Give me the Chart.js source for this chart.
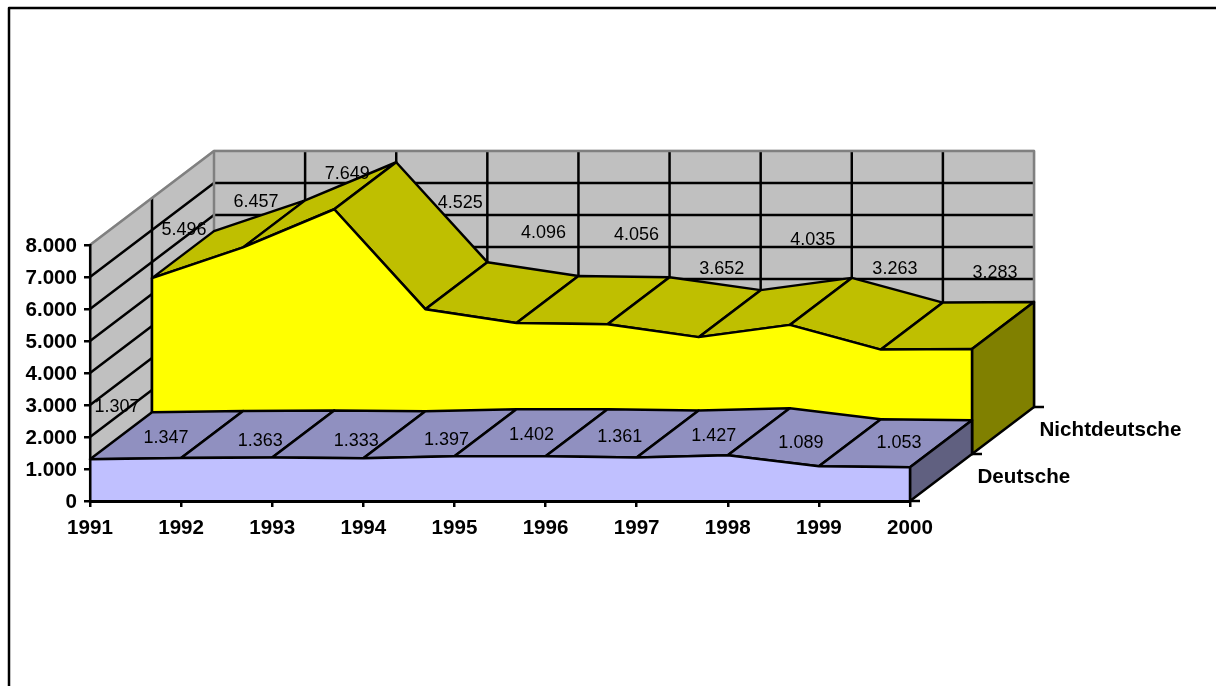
<!DOCTYPE html>
<html>
<head>
<meta charset="utf-8">
<title>Deutsche und Nichtdeutsche</title>
<script src="https://cdn.jsdelivr.net/npm/chart.js@4"></script>
<style>
  html, body { margin: 0; padding: 0; background: #fff; overflow: hidden; }
  canvas { display: block; }
</style>
</head>
<body>
<canvas id="chart" width="1216" height="686"></canvas>
<script>
const years = ['1991', '1992', '1993', '1994', '1995', '1996', '1997', '1998', '1999', '2000'];
const deutsche = [1307, 1347, 1363, 1333, 1397, 1402, 1361, 1427, 1089, 1053];
const nichtdeutsche = [5496, 6457, 7649, 4525, 4096, 4056, 3652, 4035, 3263, 3283];
const seriesNames = ['Deutsche', 'Nichtdeutsche'];

// one series step into the picture
const DEPTH_X = 62;
const DEPTH_Y = -47;

// where Excel dropped the value labels, relative to the back edge of each band
const deutscheNudge = [[-35, -5], [-77, 27], [-74, 31], [-69, 30], [-70, 31], [-76, 26], [-79, 27], [-76, 28], [-80, 24], [-73, 23]];
const nichtdeutscheNudge = [[-30, -1], [-49, 2], [-49, 12], [-27, -59], [-35, -43], [-33, -42], [-39, -21], [-39, -38], [-48, -34], [-39, -29]];

const FONT_FAMILY = '"Liberation Sans", Arial, sans-serif';
const LABEL_FONT = '18px ' + FONT_FAMILY;
const AXIS_FONT = 'bold 20.6px ' + FONT_FAMILY;
const LINE = 2.5;

function poly(ctx, pts, fill, stroke) {
  ctx.beginPath();
  pts.forEach((p, i) => (i ? ctx.lineTo(p[0], p[1]) : ctx.moveTo(p[0], p[1])));
  if (fill) {
    ctx.closePath();
    ctx.fillStyle = fill;
    ctx.fill();
  }
  ctx.strokeStyle = stroke || '#000';
  ctx.lineWidth = LINE;
  ctx.lineJoin = 'round';
  ctx.stroke();
}

// pixel position of a value, pushed back by "depth" series
function at(chart, i, value, depth) {
  const { x, y } = chart.scales;
  return [x.getPixelForValue(i) + depth * DEPTH_X, y.getPixelForValue(value) + depth * DEPTH_Y];
}

function drawBand(chart, values, depth, topColor, sideColor) {
  const ctx = chart.ctx;
  const last = values.length - 1;
  for (let i = 0; i < last; i++) {
    poly(ctx, [at(chart, i, values[i], depth), at(chart, i, values[i], depth + 1),
      at(chart, i + 1, values[i + 1], depth + 1), at(chart, i + 1, values[i + 1], depth)], topColor);
  }
  poly(ctx, [at(chart, last, values[last], depth), at(chart, last, values[last], depth + 1),
    at(chart, last, 0, depth + 1), at(chart, last, 0, depth)], sideColor);
}

const area3d = {
  id: 'area3d',
  beforeDatasetsDraw(chart) {
    const ctx = chart.ctx;
    const yTicks = chart.scales.y.ticks.map(t => t.value);
    const top = yTicks[yTicks.length - 1];
    const last = years.length - 1;

    // walls
    poly(ctx, [at(chart, 0, 0, 0), at(chart, 0, top, 0), at(chart, 0, top, 2), at(chart, 0, 0, 2)], '#c0c0c0', '#c0c0c0');
    poly(ctx, [at(chart, 0, 0, 2), at(chart, 0, top, 2), at(chart, last, top, 2), at(chart, last, 0, 2)], '#c0c0c0', '#c0c0c0');

    // grid on the walls
    yTicks.forEach(v => {
      if (v === top) return;
      poly(ctx, [at(chart, 0, v, 0), at(chart, 0, v, 2), at(chart, last, v, 2)]);
    });
    for (let i = 1; i < last; i++) poly(ctx, [at(chart, i, 0, 2), at(chart, i, top, 2)]);
    poly(ctx, [at(chart, 0, 0, 1), at(chart, 0, top, 1)]);
    poly(ctx, [at(chart, 0, top, 0), at(chart, 0, top, 2), at(chart, last, top, 2), at(chart, last, 0, 2)], null, '#808080');
    poly(ctx, [at(chart, 0, top, 2), at(chart, 0, 0, 2)], null, '#808080');

    // Nichtdeutsche band, its front face runs down to the floor and gets covered
    drawBand(chart, nichtdeutsche, 1, '#bfbf00', '#808000');
    const front = nichtdeutsche.map((v, i) => at(chart, i, v, 1));
    poly(ctx, front.concat([at(chart, last, 0, 1), at(chart, 0, 0, 1)]), '#ffff00');

    // Deutsche band, the front face is the dataset itself
    drawBand(chart, deutsche, 0, '#9090c0', '#606080');
  },
  afterDatasetsDraw(chart) {
    const ctx = chart.ctx;
    const last = years.length - 1;
    poly(ctx, [at(chart, last, deutsche[last], 0), at(chart, last, 0, 0)]);

    // depth axis
    for (let d = 0; d <= 2; d++) {
      const p = at(chart, last, 0, d);
      poly(ctx, [p, [p[0] + 10, p[1]]]);
    }
    ctx.fillStyle = '#000';
    ctx.font = AXIS_FONT;
    ctx.textAlign = 'left';
    ctx.textBaseline = 'middle';
    seriesNames.forEach((name, d) => {
      const p = at(chart, last, 0, d);
      ctx.fillText(name, p[0] + 67.5, p[1] - 23.5);
    });

    // value labels
    ctx.font = LABEL_FONT;
    ctx.textAlign = 'center';
    const fmt = new Intl.NumberFormat('de-DE');
    [[deutsche, deutscheNudge, 1], [nichtdeutsche, nichtdeutscheNudge, 2]].forEach(([vals, nudge, d]) => {
      vals.forEach((v, i) => {
        const p = at(chart, i, v, d);
        ctx.fillText(fmt.format(v), p[0] + nudge[i][0], p[1] + nudge[i][1]);
      });
    });

    // frame of the sheet, only top and left are in the shot
    poly(ctx, [[9, chart.height], [9, 8], [chart.width, 8]]);
  }
};

new Chart(document.getElementById('chart'), {
  type: 'line',
  data: {
    labels: years,
    datasets: [
      {
        label: seriesNames[0],
        data: deutsche,
        borderColor: '#000',
        borderWidth: LINE,
        backgroundColor: '#c0c0ff',
        fill: 'origin',
        pointRadius: 0,
        tension: 0,
        clip: false
      },
      {
        // drawn by the plugin, sits one step further back
        label: seriesNames[1],
        data: nichtdeutsche,
        showLine: false,
        pointRadius: 0
      }
    ]
  },
  options: {
    responsive: false,
    animation: false,
    layout: { padding: { top: 245, right: 306 } },
    plugins: { legend: { display: false }, tooltip: { enabled: false } },
    scales: {
      x: {
        z: 1,
        afterFit: s => { s.height = 185; },
        grid: { z: 1, drawOnChartArea: false, color: '#000', tickColor: '#000', lineWidth: LINE, tickLength: 6 },
        border: { z: 1, color: '#000', width: 3 },
        ticks: { color: '#000', font: { family: FONT_FAMILY, size: 20.6, weight: 'bold' }, autoSkip: false, maxRotation: 0, padding: 9 }
      },
      y: {
        z: 1,
        min: 0,
        max: 8000,
        afterFit: s => { s.width = 90; },
        grid: { z: 1, drawOnChartArea: false, color: '#000', tickColor: '#000', lineWidth: LINE, tickLength: 6 },
        border: { z: 1, color: '#000', width: LINE },
        ticks: {
          stepSize: 1000,
          color: '#000',
          font: { family: FONT_FAMILY, size: 20.6, weight: 'bold' },
          padding: 7,
          labelOffset: 1,
          callback: v => new Intl.NumberFormat('de-DE').format(v)
        }
      }
    }
  },
  plugins: [area3d]
});
</script>
</body>
</html>
